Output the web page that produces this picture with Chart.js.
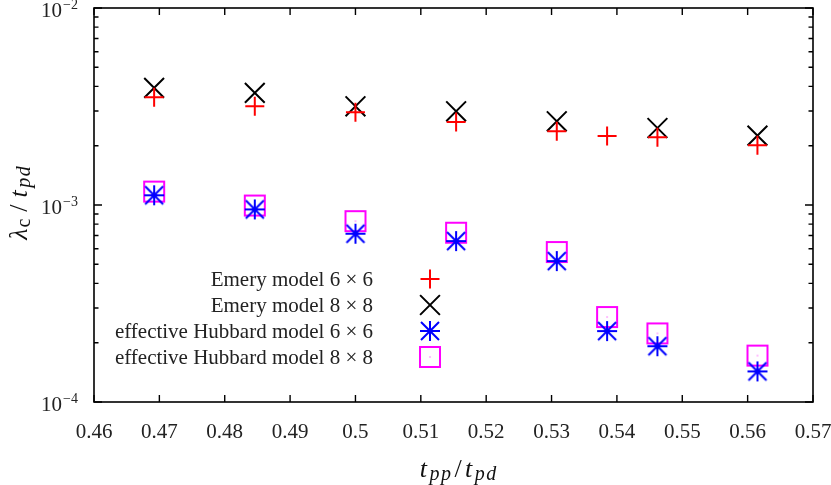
<!DOCTYPE html>
<html>
<head>
<meta charset="utf-8">
<script src="https://cdn.jsdelivr.net/npm/chart.js@4"></script>
<style>
  html, body { margin: 0; padding: 0; background: #fff; }
  #wrap { width: 831px; height: 485px; position: relative; }
</style>
</head>
<body>
<div id="wrap"><canvas id="chart"></canvas></div>
<script>
// t_pp / t_pd values where the runs were done
const tppAll = [0.4692, 0.4846, 0.5, 0.5154, 0.5308, 0.5385, 0.5462, 0.5615];
const tppEmery8 = [0.4692, 0.4846, 0.5, 0.5154, 0.5308, 0.5462, 0.5615];

// lambda_c / t_pd
const emery6 = [3.52e-3, 3.17e-3, 2.96e-3, 2.64e-3, 2.37e-3, 2.24e-3, 2.21e-3, 2.01e-3];
const emery8 = [3.93e-3, 3.71e-3, 3.17e-3, 2.99e-3, 2.66e-3, 2.46e-3, 2.25e-3];
const hubbard6 = [1.12e-3, 9.5e-4, 7.15e-4, 6.56e-4, 5.19e-4, 2.29e-4, 1.92e-4, 1.43e-4];
const hubbard8 = [1.17e-3, 9.94e-4, 8.28e-4, 7.23e-4, 5.77e-4, 2.70e-4, 2.23e-4, 1.72e-4];

const seriesNames = ['Emery model 6 \u00d7 6', 'Emery model 8 \u00d7 8',
  'effective Hubbard model 6 \u00d7 6', 'effective Hubbard model 8 \u00d7 8'];

// axis ticks
const xTicks = [0.46, 0.47, 0.48, 0.49, 0.5, 0.51, 0.52, 0.53, 0.54, 0.55, 0.56, 0.57];
const xTickLabels = ['0.46', '0.47', '0.48', '0.49', '0.5', '0.51', '0.52', '0.53', '0.54', '0.55', '0.56', '0.57'];
const yDecades = [1e-4, 1e-3, 1e-2];
const yTickExponents = ['\u22124', '\u22123', '\u22122'];

const serif = '"Liberation Serif", "DejaVu Serif", serif';

function pts(xs, ys) {
  return xs.map((x, i) => ({ x: x, y: ys[i] }));
}

// gnuplot-like marker images
function markerCanvas(kind, color) {
  const c = document.createElement('canvas');
  c.width = 24; c.height = 24;
  const g = c.getContext('2d');
  g.strokeStyle = color;
  g.fillStyle = color;
  g.lineWidth = 2;
  g.beginPath();
  if (kind === 'star') {
    g.moveTo(12, 2); g.lineTo(12, 22);
    g.moveTo(2, 12); g.lineTo(22, 12);
    g.moveTo(3, 3); g.lineTo(21, 21);
    g.moveTo(21, 3); g.lineTo(3, 21);
    g.stroke();
  } else {
    g.rect(2, 2, 20, 20);
    g.stroke();
    g.fillRect(11.5, 11.5, 1, 1);
  }
  return c;
}

const datasets = [
  { label: seriesNames[0], data: pts(tppAll, emery6), pointStyle: 'cross', pointRadius: 9.5, borderColor: '#ff0000' },
  { label: seriesNames[1], data: pts(tppEmery8, emery8), pointStyle: 'crossRot', pointRadius: 14, borderColor: '#000000' },
  { label: seriesNames[2], data: pts(tppAll, hubbard6), pointStyle: markerCanvas('star', '#0000ff'), pointRadius: 12, borderColor: '#0000ff' },
  { label: seriesNames[3], data: pts(tppAll, hubbard8), pointStyle: markerCanvas('box', '#ff00ff'), pointRadius: 12, borderColor: '#ff00ff' }
].map(d => Object.assign(d, {
  showLine: false,
  pointBorderWidth: 2,
  pointBorderColor: d.borderColor,
  pointBackgroundColor: 'rgba(0,0,0,0)',
  pointHoverRadius: d.pointRadius
}));

// draw a row of text pieces: [text, font, dy, gapAfter]
function drawRuns(ctx, runs, x, y, align) {
  let total = 0;
  runs.forEach(r => { ctx.font = r[1]; total += ctx.measureText(r[0]).width + (r[3] || 0); });
  let cx = align === 'center' ? x - total / 2 : x;
  ctx.textAlign = 'left';
  runs.forEach(r => {
    ctx.font = r[1];
    ctx.fillText(r[0], cx, y + (r[2] || 0));
    cx += ctx.measureText(r[0]).width + (r[3] || 0);
  });
}

const framePlugin = {
  id: 'frame',
  afterDraw(chart) {
    const ctx = chart.ctx;
    const a = chart.chartArea;
    const xs = chart.scales.x, ys = chart.scales.y;
    ctx.save();
    ctx.strokeStyle = '#000';
    ctx.fillStyle = '#222';
    ctx.lineWidth = 1.6;
    ctx.strokeRect(a.left, a.top, a.right - a.left, a.bottom - a.top);

    // x ticks (inward, mirrored)
    ctx.lineWidth = 1.4;
    ctx.beginPath();
    xTicks.forEach(v => {
      const px = xs.getPixelForValue(v);
      ctx.moveTo(px, a.bottom); ctx.lineTo(px, a.bottom - 7);
      ctx.moveTo(px, a.top); ctx.lineTo(px, a.top + 7);
    });
    // y ticks, log minor
    yDecades.forEach(d => {
      for (let m = 1; m <= 9; m++) {
        const v = d * m;
        if (v > 1e-2 + 1e-12) break;
        const py = ys.getPixelForValue(v);
        const len = m === 1 ? 8 : 4.5;
        ctx.moveTo(a.left, py); ctx.lineTo(a.left + len, py);
        ctx.moveTo(a.right, py); ctx.lineTo(a.right - len, py);
      }
    });
    ctx.stroke();

    // x tick labels
    ctx.textBaseline = 'alphabetic';
    ctx.font = '21px ' + serif;
    ctx.textAlign = 'center';
    xTicks.forEach((v, i) => {
      ctx.fillText(xTickLabels[i], xs.getPixelForValue(v), a.bottom + 36);
    });

    // y tick labels 10^n
    yDecades.forEach((d, i) => {
      const py = ys.getPixelForValue(d);
      ctx.textAlign = 'left';
      ctx.font = '21px ' + serif;
      ctx.fillText('10', 41, py + 9);
      ctx.font = '14px ' + serif;
      ctx.fillText(yTickExponents[i], 63, py + 0.5);
    });

    // axis titles
    ctx.fillStyle = '#111';
    const it = 'italic 26px ' + serif;
    const itS = 'italic 20px ' + serif;
    drawRuns(ctx, [['t', it, 0, 2.5], ['p', itS, 3, 1.5], ['p', itS, 3, 3.5], ['/', '26px ' + serif, 0, 3.5],
      ['t', it, 0, 2.5], ['p', itS, 3, 1.5], ['d', itS, 3, 0]],
      458, a.bottom + 75, 'center');

    ctx.save();
    ctx.translate(27, (a.top + a.bottom) / 2 - 2);
    ctx.rotate(-Math.PI / 2);
    drawRuns(ctx, [['\u03bb', it, 0, 1], ['c', '20px ' + serif, 3, 7], ['/', '26px ' + serif, 0, 7],
      ['t', it, 0, 2.5], ['p', itS, 3, 1.5], ['d', itS, 3, 0]],
      0, 0, 'center');
    ctx.restore();

    // legend: right-aligned text, symbol on the right
    const rowY = [279, 305, 331, 357];
    ctx.font = '21px ' + serif;
    chart.data.datasets.forEach((ds, i) => {
      ctx.fillStyle = '#222';
      ctx.textAlign = 'right';
      ctx.textBaseline = 'middle';
      ctx.fillText(ds.label, 373, rowY[i] + 1);
      ctx.strokeStyle = ds.borderColor;
      ctx.fillStyle = 'rgba(0,0,0,0)';
      ctx.lineWidth = 2;
      Chart.helpers.drawPoint(ctx, {
        pointStyle: ds.pointStyle, radius: ds.pointRadius, rotation: 0, borderWidth: 2
      }, 430, rowY[i]);
    });
    ctx.restore();
  }
};

new Chart(document.getElementById('chart'), {
  type: 'scatter',
  data: { datasets: datasets },
  options: {
    responsive: true,
    maintainAspectRatio: false,
    animation: false,
    layout: { autoPadding: false, padding: { left: 94, right: 18, top: 8, bottom: 83 } },
    plugins: { legend: { display: false }, tooltip: { enabled: false } },
    scales: {
      x: { type: 'linear', min: 0.46, max: 0.57, display: false },
      y: { type: 'logarithmic', min: 1e-4, max: 1e-2, display: false }
    },
    elements: { point: { hitRadius: 0 } }
  },
  plugins: [framePlugin]
});
</script>
</body>
</html>
